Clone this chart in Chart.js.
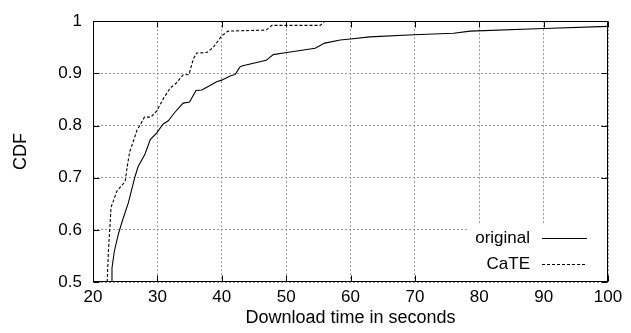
<!DOCTYPE html>
<html>
<head>
<meta charset="utf-8">
<script src="https://cdn.jsdelivr.net/npm/chart.js@4"></script>
<style>
  body { margin: 0; background: #fff; }
  #wrap { width: 631px; height: 333px; }
</style>
</head>
<body>
<div id="wrap"><canvas id="cdf" width="631" height="333"></canvas></div>
<script>
// values
const originalX = [22.9, 22.95, 23.3, 23.9, 24.5, 25.5, 26.5, 27.0, 28.1, 28.9, 29.9, 30.9, 31.7, 32.0, 32.7, 34.0, 35.0, 36.0, 36.9, 37.9, 39.2, 40.0, 41.3, 42.1, 42.8, 43.1, 46.9, 48.0, 49.6, 54.5, 56.0, 58.4, 60, 63, 69.8, 76, 78.6, 90, 100];
const originalY = [0.5, 0.527, 0.558, 0.59, 0.615, 0.652, 0.701, 0.721, 0.746, 0.773, 0.786, 0.803, 0.809, 0.814, 0.825, 0.843, 0.845, 0.867, 0.868, 0.875, 0.884, 0.887, 0.895, 0.898, 0.912, 0.914, 0.925, 0.936, 0.939, 0.948, 0.958, 0.964, 0.966, 0.970, 0.974, 0.977, 0.981, 0.986, 0.99];

const cateX = [22.2, 22.4, 22.6, 22.8, 23.7, 25.0, 25.3, 25.7, 26.0, 26.8, 28.0, 29.0, 29.9, 31.0, 32.0, 32.9, 34.0, 34.9, 35.6, 36.1, 37.7, 38.7, 40.0, 41.0, 46.9, 47.8, 55.3, 56.0];
const cateY = [0.5, 0.56, 0.60, 0.643, 0.674, 0.693, 0.72, 0.75, 0.76, 0.79, 0.816, 0.816, 0.828, 0.853, 0.872, 0.881, 0.897, 0.898, 0.928, 0.939, 0.940, 0.950, 0.972, 0.981, 0.983, 0.992, 0.992, 1.0];

const seriesNames = ['original', 'CaTE'];
const yTickLabels = ['0.5', '0.6', '0.7', '0.8', '0.9', '1'];

const FONT = '"Liberation Sans", Arial, Helvetica, sans-serif';

function toPoints(xs, ys) {
    return xs.map((x, i) => ({ x: x, y: ys[i] }));
}

// gnuplot style frame with inward tick marks
const framePlugin = {
    id: 'frame',
    afterDatasetsDraw(chart) {
        const ctx = chart.ctx;
        const a = chart.chartArea;
        const l = Math.round(a.left) + 0.5, r = Math.round(a.right) - 0.5;
        const t = Math.round(a.top) + 0.5, b = Math.round(a.bottom) - 0.5;
        ctx.save();
        ctx.strokeStyle = '#000';
        ctx.lineWidth = 1;
        ctx.setLineDash([]);
        ctx.beginPath();
        chart.scales.x.ticks.forEach(tk => {
            const px = Math.round(chart.scales.x.getPixelForValue(tk.value)) + 0.5;
            ctx.moveTo(px, b); ctx.lineTo(px, b - 6);
            ctx.moveTo(px, t); ctx.lineTo(px, t + 6);
        });
        chart.scales.y.ticks.forEach(tk => {
            const py = Math.round(chart.scales.y.getPixelForValue(tk.value)) + 0.5;
            ctx.moveTo(l, py); ctx.lineTo(l + 6, py);
            ctx.moveTo(r, py); ctx.lineTo(r - 6, py);
        });
        ctx.stroke();
        ctx.strokeRect(l, t, r - l, b - t);
        ctx.restore();
    }
};

// key in the lower right corner: label text, then line sample
const keyPlugin = {
    id: 'key',
    afterDraw(chart) {
        const ctx = chart.ctx;
        const a = chart.chartArea;
        ctx.save();
        ctx.fillStyle = '#fff';
        ctx.fillRect(a.right - 141, a.bottom - 57, 140, 56);
        ctx.font = '17px ' + FONT;
        ctx.textAlign = 'right';
        ctx.textBaseline = 'middle';
        chart.data.datasets.forEach((ds, i) => {
            const y = a.bottom - 44 + i * 26;
            ctx.fillStyle = '#000';
            ctx.fillText(ds.label, a.right - 78, y);
            ctx.strokeStyle = ds.borderColor;
            ctx.lineWidth = 1;
            ctx.setLineDash(ds.borderDash || []);
            ctx.beginPath();
            ctx.moveTo(a.right - 66, Math.round(y) + 0.5);
            ctx.lineTo(a.right - 21, Math.round(y) + 0.5);
            ctx.stroke();
        });
        ctx.restore();
    }
};

new Chart(document.getElementById('cdf'), {
    type: 'line',
    data: {
        datasets: [
            {
                label: seriesNames[0],
                data: toPoints(originalX, originalY),
                borderColor: '#000',
                borderWidth: 1.1,
                pointRadius: 0,
                tension: 0
            },
            {
                label: seriesNames[1],
                data: toPoints(cateX, cateY),
                borderColor: '#000',
                borderWidth: 1.1,
                borderDash: [3, 2],
                pointRadius: 0,
                tension: 0
            }
        ]
    },
    options: {
        responsive: false,
        animation: false,
        layout: { padding: { left: 0, top: 15, right: 23, bottom: 0 } },
        plugins: {
            legend: { display: false },
            tooltip: { enabled: false }
        },
        scales: {
            x: {
                type: 'linear',
                min: 20,
                max: 100,
                afterFit(scale) { scale.height = 51; },
                ticks: {
                    stepSize: 10,
                    padding: 5,
                    color: '#000',
                    font: { family: FONT, size: 17 }
                },
                grid: { color: '#999', drawTicks: false },
                border: { display: false, dash: [2, 2] },
                title: {
                    display: true,
                    text: 'Download time in seconds',
                    color: '#000',
                    font: { family: FONT, size: 18, lineHeight: 1.2 },
                    padding: { top: 0, bottom: 4 }
                }
            },
            y: {
                min: 0.5,
                max: 1,
                afterFit(scale) { scale.width = 93; },
                ticks: {
                    stepSize: 0.1,
                    padding: 11,
                    color: '#000',
                    font: { family: FONT, size: 17 },
                    callback: (v, i) => yTickLabels[i]
                },
                grid: { color: '#999', drawTicks: false },
                border: { display: false, dash: [2, 2] },
                title: {
                    display: true,
                    text: 'CDF',
                    color: '#000',
                    font: { family: FONT, size: 18, lineHeight: 1.2 },
                    padding: { top: 10, bottom: 0 }
                }
            }
        }
    },
    plugins: [framePlugin, keyPlugin]
});
</script>
</body>
</html>
